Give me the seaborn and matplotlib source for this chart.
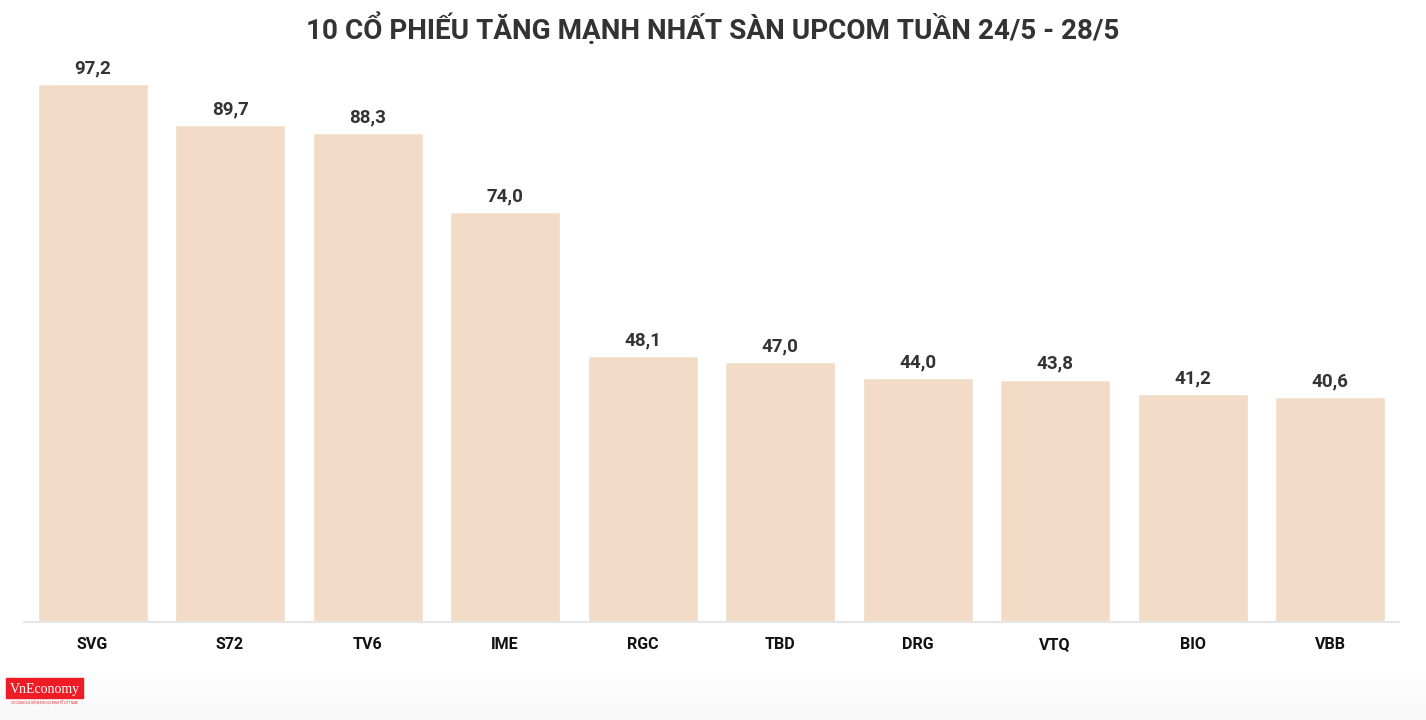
import numpy as np
import pandas as pd
import matplotlib
matplotlib.use("Agg")
import matplotlib.pyplot as plt
import seaborn as sns
from matplotlib.patches import Rectangle

# data
tickers = ['SVG', 'S72', 'TV6', 'IME', 'RGC', 'TBD', 'DRG', 'VTQ', 'BIO', 'VBB']
gains = [97.2, 89.7, 88.3, 74.0, 48.1, 47.0, 44.0, 43.8, 41.2, 40.6]
title = '10 CỔ PHIẾU TĂNG MẠNH NHẤT SÀN UPCOM TUẦN 24/5 - 28/5'

df = pd.DataFrame({'ticker': tickers, 'gain': gains})

sns.set_style('white')
plt.rcParams['font.family'] = ['Roboto', 'DejaVu Sans']

fig = plt.figure(figsize=(14.26, 7.2), dpi=100)

# faint grey fade at the bottom of the page
bg = fig.add_axes([0, 0, 1, 0.07], zorder=-10)
grad = np.linspace(0, 1, 60).reshape(-1, 1)
bg.imshow(grad, aspect='auto', cmap='Greys', vmin=0, vmax=16, extent=[0, 1, 0, 1])
bg.axis('off')

ax = fig.add_axes([0.01666, 0.1361, 0.9643, 0.7688])
ax.patch.set_alpha(0)
sns.barplot(data=df, x='ticker', y='gain', color='#f2dcc8', saturation=1,
            width=0.8, ax=ax)
ax.set_xlim(-0.5, 9.5)
ax.set_ylim(0, 100)

for i, v in enumerate(gains):
    ax.text(i, v + 1.2, f'{v:.1f}'.replace('.', ','), ha='center', va='bottom',
            fontsize=13.5, fontweight='bold', color='#333333', clip_on=False)

for s in ['top', 'right', 'left']:
    ax.spines[s].set_visible(False)
ax.spines['bottom'].set_color('#e6e6e6')
ax.spines['bottom'].set_linewidth(1.5)
ax.set_yticks([])
ax.set_xlabel('')
ax.set_ylabel('')
ax.tick_params(axis='x', length=7, width=1, color='#e6e6e6', pad=4,
               labelsize=11.5, labelcolor='#111111')
for lb in ax.get_xticklabels():
    lb.set_fontweight('bold')

fig.text(0.5, 0.961, title, ha='center', va='center', fontsize=20.1,
         fontweight='bold', color='#333333')

# VnEconomy logo
fig.patches.append(Rectangle((6 / 1426, 1 - 698 / 720), 77 / 1426, 20 / 720,
                             transform=fig.transFigure, color='#ee1c25',
                             zorder=5))
fig.text(44.5 / 1426, 1 - 689 / 720, 'VnEconomy', ha='center', va='center',
         family='Liberation Serif', fontsize=10, color='white', zorder=6)
fig.text(44.5 / 1426, 1 - 703 / 720, 'CƠ QUAN CỦA HỘI KHOA HỌC KINH TẾ VIỆT NAM',
         ha='center', va='center', fontsize=2.2, color='#ee1c25', zorder=6)

fig.savefig('out.png', dpi=100)
